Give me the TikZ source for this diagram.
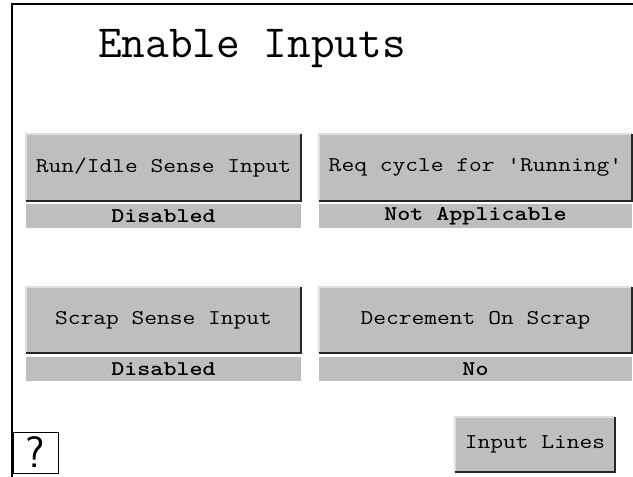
\documentclass[tikz,border=0pt]{standalone}
\usetikzlibrary{positioning}
\definecolor{btngray}{RGB}{190,190,190}
\definecolor{btnlight}{RGB}{222,222,222}
\newcommand{\btntext}[1]{\scalebox{1.18}[1]{#1}}

\begin{document}
\begin{tikzpicture}[x=1pt, y=-1pt,
    panelbtn/.style={rectangle, fill=btngray, inner sep=0pt, outer sep=0pt,
        font=\ttfamily\fontsize{21}{21}\selectfont},
    statusbar/.style={rectangle, fill=btngray, inner sep=0pt, outer sep=0pt,
        minimum height=24pt, font=\ttfamily\bfseries\fontsize{21}{21}\selectfont},
    litedge/.style={btnlight, line width=1.2pt},
    darkedge/.style={black!85, line width=1.4pt}]
    \useasboundingbox (0,0) rectangle (633,477);

    % screen frame and title
    \draw[line width=1.2pt] (12,477) -- (12,4) -- (633,4);
    \node[anchor=base, font=\ttfamily\fontsize{46}{46}\selectfont] (title) at (252,57) {Enable Inputs};

    % first row: run/idle input
    \node[panelbtn, minimum width=275pt, minimum height=67pt] (runidle) at (163.5,167.5) {\btntext{Run/Idle Sense Input}};
    \node[panelbtn, minimum width=313pt, minimum height=67pt] (reqcycle) at (475.5,167.5) {\btntext{Req cycle for \textquotesingle Running\textquotesingle}};
    \node[statusbar, minimum width=275pt, below=3pt of runidle] (runidlestat) {\btntext{Disabled}};
    \node[statusbar, minimum width=313pt, below=3pt of reqcycle] (reqcyclestat) {\btntext{Not Applicable}};

    % second row: scrap input
    \node[panelbtn, minimum width=275pt, minimum height=66pt] (scrap) at (163.5,320) {\btntext{Scrap Sense Input}};
    \node[panelbtn, minimum width=313pt, minimum height=66pt] (decrement) at (475.5,320) {\btntext{Decrement On Scrap}};
    \node[statusbar, minimum width=275pt, below=4pt of scrap] (scrapstat) {\btntext{Disabled}};
    \node[statusbar, minimum width=313pt, below=4pt of decrement] (decrementstat) {\btntext{No}};

    % bottom buttons
    \node[panelbtn, minimum width=160pt, minimum height=55pt] (inputlines) at (535,444.5) {\btntext{Input Lines}};
    \node[rectangle, draw, line width=1pt, fill=white, inner sep=0pt, minimum width=45pt, minimum height=41pt,
        font=\sffamily\fontsize{44}{44}\selectfont] (help) at (35.5,452.5) {?};

    % raised edges
    \foreach \b in {runidle,reqcycle,scrap,decrement,inputlines} {
        \draw[litedge] (\b.south west) |- (\b.north east);
        \draw[darkedge] (\b.north east) |- (\b.south west);
    }
\end{tikzpicture}
\end{document}
